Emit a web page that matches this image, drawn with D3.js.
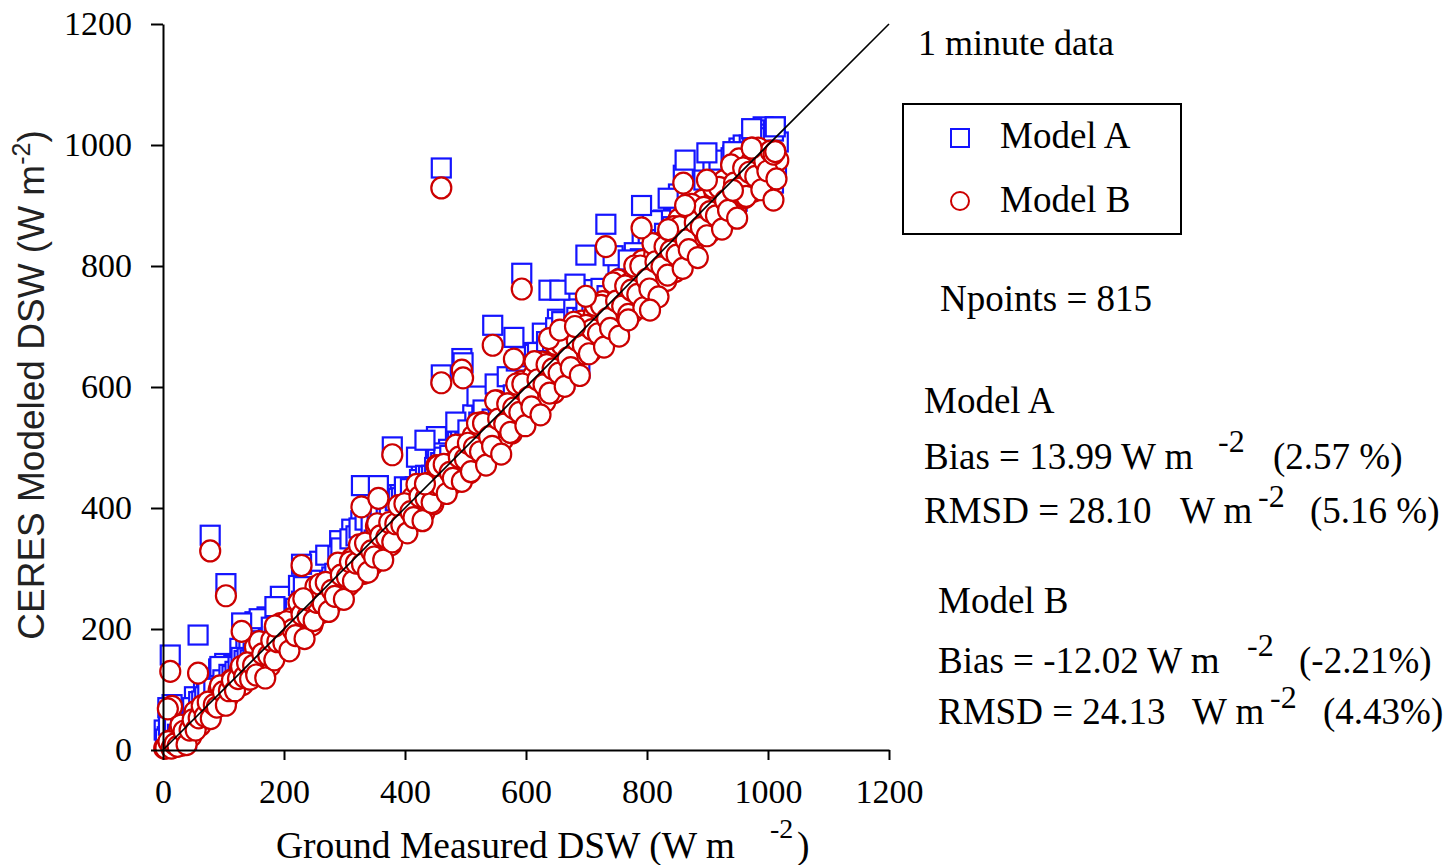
<!DOCTYPE html>
<html>
<head>
<meta charset="utf-8">
<script src="https://cdn.jsdelivr.net/npm/d3@7"></script>
<style>
  body { margin: 0; background: #fff; }
  svg { display: block; }
  .serif { font-family: "Liberation Serif", "Times New Roman", serif; fill: #000; }
  .axis path, .axis line { stroke: #000; stroke-width: 2; }
</style>
</head>
<body>
<svg id="chart" width="1448" height="865"></svg>
<script>
// ground measured DSW and the two CERES model estimates (W m-2)
const ground = [2, 7, 12, 17, 22, 27, 32, 37, 42, 47, 52, 57, 62, 67, 72, 77, 82, 87, 92, 97,
  102, 107, 112, 117, 122, 127, 132, 137, 142, 147, 152, 157, 162, 167, 172, 177, 182, 187, 192, 197,
  202, 207, 212, 217, 222, 227, 232, 237, 242, 247, 252, 257, 262, 267, 272, 277, 282, 287, 292, 297,
  302, 307, 312, 317, 322, 327, 332, 337, 342, 347, 352, 357, 362, 367, 372, 377, 382, 387, 392, 397,
  402, 407, 412, 417, 422, 427, 432, 437, 442, 447, 452, 457, 462, 467, 472, 477, 482, 487, 492, 497,
  502, 507, 512, 517, 522, 527, 532, 537, 542, 547, 552, 557, 562, 567, 572, 577, 582, 587, 592, 597,
  602, 607, 612, 617, 622, 627, 632, 637, 642, 647, 652, 657, 662, 667, 672, 677, 682, 687, 692, 697,
  702, 707, 712, 717, 722, 727, 732, 737, 742, 747, 752, 757, 762, 767, 772, 777, 782, 787, 792, 797,
  802, 807, 812, 817, 822, 827, 832, 837, 842, 847, 852, 857, 862, 867, 872, 877, 882, 887, 892, 897,
  902, 907, 912, 917, 922, 927, 932, 937, 942, 947, 952, 957, 962, 967, 972, 977, 982, 987, 992, 997,
  1002, 1007, 1012, 1017,
  4, 9, 14, 19, 24, 29, 34, 39, 44, 49, 54, 59, 64, 69, 74, 79, 84, 89, 94, 99,
  104, 109, 114, 119, 124, 129, 134, 139, 144, 149, 154, 159, 164, 169, 174, 179, 184, 189, 194, 199,
  204, 209, 214, 219, 224, 229, 234, 239, 244, 249, 254, 259, 264, 269, 274, 279, 284, 289, 294, 299,
  304, 309, 314, 319, 324, 329, 334, 339, 344, 349, 354, 359, 364, 369, 374, 379, 384, 389, 394, 399,
  404, 409, 414, 419, 424, 429, 434, 439, 444, 449, 454, 459, 464, 469, 474, 479, 484, 489, 494, 499,
  504, 509, 514, 519, 524, 529, 534, 539, 544, 549, 554, 559, 564, 569, 574, 579, 584, 589, 594, 599,
  604, 609, 614, 619, 624, 629, 634, 639, 644, 649, 654, 659, 664, 669, 674, 679, 684, 689, 694, 699,
  704, 709, 714, 719, 724, 729, 734, 739, 744, 749, 754, 759, 764, 769, 774, 779, 784, 789, 794, 799,
  804, 809, 814, 819, 824, 829, 834, 839, 844, 849, 854, 859, 864, 869, 874, 879, 884, 889, 894, 899,
  904, 909, 914, 919, 924, 929, 934, 939, 944, 949, 954, 959, 964, 969, 974, 979, 984, 989, 994, 999,
  1004, 1009, 1014,
  12, 15, 8, 58, 78, 104, 130, 185, 229, 232, 328, 356, 379, 433, 460, 460, 494, 496, 545, 580,
  593, 638, 656, 681, 699, 732, 769, 791, 805, 835, 860, 863, 899, 942, 973, 1009, 1012];
const modelA = [33, 22, 57, 30, 45, 48, 56, 50, 57, 65, 88, 63, 66, 100, 102, 72, 119, 97, 134, 94,
  143, 116, 133, 141, 135, 168, 123, 168, 169, 141, 212, 167, 162, 157, 220, 169, 192, 204, 229, 202,
  205, 220, 247, 205, 244, 262, 227, 224, 285, 237, 288, 284, 252, 277, 287, 287, 304, 280, 346, 292,
  325, 287, 365, 317, 320, 379, 317, 344, 352, 355, 400, 360, 369, 367, 407, 354, 422, 392, 422, 409,
  415, 407, 432, 435, 432, 455, 434, 434, 472, 422, 518, 472, 445, 484, 497, 474, 489, 510, 534, 485,
  527, 483, 554, 490, 542, 571, 494, 540, 560, 526, 592, 584, 543, 550, 614, 549, 606, 567, 657, 585,
  603, 600, 644, 610, 609, 689, 606, 616, 677, 616, 712, 651, 661, 662, 690, 666, 696, 687, 724, 703,
  715, 676, 761, 700, 729, 756, 724, 728, 753, 733, 802, 771, 728, 780, 802, 742, 813, 777, 844, 770,
  833, 788, 837, 817, 819, 876, 791, 846, 865, 809, 919, 861, 848, 847, 920, 854, 889, 894, 934, 890,
  900, 906, 949, 893, 936, 966, 911, 913, 983, 921, 995, 978, 938, 967, 987, 972, 1001, 970, 1030, 980,
  1020, 973, 1030, 1005,
  18, 41, 11, 42, 26, 56, 58, 17, 65, 70, 48, 80, 81, 88, 99, 67, 102, 79, 138, 116,
  89, 125, 123, 130, 138, 153, 148, 152, 149, 160, 146, 217, 171, 164, 184, 203, 187, 191, 254, 205,
  234, 202, 211, 234, 272, 246, 222, 233, 291, 242, 266, 312, 254, 322, 257, 286, 292, 321, 334, 277,
  308, 349, 291, 354, 367, 329, 380, 306, 374, 347, 396, 392, 326, 396, 404, 366, 412, 416, 417, 435,
  381, 432, 396, 484, 447, 401, 454, 453, 454, 467, 491, 475, 484, 469, 487, 471, 542, 496, 489, 509,
  529, 498, 512, 585, 521, 562, 509, 530, 547, 605, 569, 527, 551, 617, 553, 587, 643, 570, 650, 564,
  605, 605, 654, 657, 582, 626, 675, 602, 675, 698, 645, 708, 613, 693, 660, 729, 715, 631, 714, 730,
  677, 733, 747, 733, 763, 688, 751, 709, 817, 770, 706, 772, 779, 765, 788, 822, 791, 812, 776, 806,
  784, 875, 819, 794, 827, 854, 823, 837, 910, 846, 887, 834, 855, 872, 930, 894, 852, 876, 942, 878,
  912, 968, 895, 975, 889, 930, 930, 979, 982, 907, 951, 1000, 927, 1000, 1023, 970, 1025, 938, 1018, 985,
  1012, 1023, 956,
  157, 75, 70, 190, 355, 275, 210, 237, 307, 270, 437, 437, 501, 512, 962, 620, 647, 640, 702, 682,
  788, 760, 760, 770, 818, 869, 810, 900, 755, 912, 950, 975, 987, 989, 1027, 937, 1030];
const modelB = [3, 4, 15, 5, 10, 33, 8, 20, 39, 23, 63, 48, 41, 52, 72, 54, 77, 72, 99, 79,
  95, 86, 115, 99, 110, 133, 108, 120, 139, 123, 170, 142, 127, 142, 172, 139, 174, 162, 204, 167,
  190, 172, 217, 187, 202, 237, 192, 209, 237, 207, 270, 242, 227, 242, 272, 239, 274, 262, 304, 267,
  290, 272, 317, 287, 302, 337, 292, 309, 337, 307, 370, 342, 327, 342, 372, 339, 374, 362, 404, 367,
  390, 372, 417, 387, 402, 437, 392, 409, 437, 407, 470, 442, 427, 442, 472, 439, 474, 462, 504, 467,
  485, 458, 519, 475, 494, 541, 476, 498, 535, 491, 577, 536, 513, 532, 572, 524, 571, 552, 609, 555,
  585, 558, 619, 575, 594, 641, 576, 598, 635, 591, 677, 636, 613, 632, 672, 624, 671, 652, 709, 655,
  685, 658, 719, 675, 694, 741, 676, 698, 735, 691, 777, 736, 713, 732, 772, 724, 771, 752, 809, 755,
  785, 758, 819, 775, 794, 841, 776, 798, 835, 791, 877, 836, 813, 832, 872, 824, 871, 852, 909, 855,
  885, 858, 919, 875, 894, 941, 876, 898, 935, 891, 977, 936, 913, 932, 972, 924, 971, 952, 990, 955,
  985, 958, 990, 975,
  3, 14, 3, 10, 6, 41, 31, 9, 33, 50, 33, 53, 73, 56, 79, 52, 75, 71, 106, 96,
  74, 98, 115, 98, 118, 138, 121, 144, 117, 140, 124, 179, 159, 119, 156, 181, 149, 179, 209, 177,
  212, 164, 199, 189, 244, 224, 184, 221, 246, 214, 244, 274, 242, 277, 229, 264, 254, 309, 289, 249,
  286, 311, 279, 309, 339, 307, 342, 294, 329, 319, 374, 354, 314, 351, 376, 344, 374, 404, 372, 407,
  359, 394, 384, 439, 419, 379, 416, 441, 409, 439, 469, 437, 472, 424, 459, 449, 504, 484, 444, 481,
  507, 460, 500, 540, 493, 540, 471, 518, 502, 577, 547, 489, 539, 572, 525, 565, 605, 558, 605, 536,
  583, 567, 642, 612, 554, 604, 637, 590, 630, 670, 623, 670, 601, 648, 632, 707, 677, 619, 669, 702,
  655, 695, 735, 688, 735, 666, 713, 697, 772, 742, 684, 734, 767, 720, 760, 800, 753, 800, 731, 778,
  762, 837, 807, 749, 799, 832, 785, 825, 865, 818, 865, 796, 843, 827, 902, 872, 814, 864, 897, 850,
  890, 930, 883, 930, 861, 908, 892, 967, 937, 879, 929, 962, 915, 955, 995, 948, 995, 926, 973, 957,
  990, 985, 944,
  130, 72, 68, 127, 329, 255, 196, 205, 305, 250, 402, 416, 488, 440, 929, 607, 628, 615, 669, 646,
  762, 680, 694, 700, 750, 832, 711, 863, 727, 860, 937, 900, 942, 925, 995, 909, 989];
const ticks = [0, 200, 400, 600, 800, 1000, 1200];
const seriesNames = ["Model A", "Model B"];

const svg = d3.select("#chart");
const x = d3.scaleLinear().domain([0, 1200]).range([163, 889]);
const y = d3.scaleLinear().domain([0, 1200]).range([750, 24]);
const blue = "#1414ff", red = "#cc0000";

const ptsA = ground.map((g, i) => [g, modelA[i]]);
const ptsB = ground.map((g, i) => [g, modelB[i]]);

// markers: squares first, circles on top
svg.append("g").selectAll("rect").data(ptsA).join("rect")
    .attr("x", d => x(d[0]) - 9.5)
    .attr("y", d => y(d[1]) - 9.5)
    .attr("width", 19).attr("height", 19)
    .attr("fill", "#fff").attr("stroke", blue).attr("stroke-width", 2.2);

svg.append("g").selectAll("ellipse").data(ptsB).join("ellipse")
    .attr("cx", d => x(d[0]))
    .attr("cy", d => y(d[1]))
    .attr("rx", 10).attr("ry", 10.5)
    .attr("fill", "#fff").attr("stroke", red).attr("stroke-width", 2.2);

// 1:1 line
svg.append("line")
    .attr("x1", x(0)).attr("y1", y(0)).attr("x2", x(1200)).attr("y2", y(1200))
    .attr("stroke", "#000").attr("stroke-width", 1.6);

svg.append("g").attr("class", "axis")
    .attr("transform", `translate(0,${y(0)})`)
    .call(d3.axisBottom(x).tickValues(ticks).tickSize(10).tickSizeOuter(0).tickPadding(19).tickFormat(d3.format("d")))
    .attr("font-family", "'Liberation Serif', 'Times New Roman', serif")
    .attr("font-size", 34);

svg.append("g").attr("class", "axis")
    .attr("transform", `translate(${x(0)},0)`)
    .call(d3.axisLeft(y).tickValues(ticks).tickSize(12).tickSizeOuter(0).tickPadding(19).tickFormat(d3.format("d")))
    .attr("font-family", "'Liberation Serif', 'Times New Roman', serif")
    .attr("font-size", 34);

// axis titles
svg.append("text").attr("class", "serif").attr("font-size", 37.5)
    .attr("x", 276).attr("y", 858).text("Ground Measured DSW (W m");
svg.append("text").attr("class", "serif").attr("font-size", 28).attr("x", 770).attr("y", 838).text("-2");
svg.append("text").attr("class", "serif").attr("font-size", 37.5).attr("x", 797).attr("y", 858).text(")");

const yt = svg.append("text")
    .attr("transform", "translate(44,385) rotate(-90)")
    .attr("text-anchor", "middle")
    .attr("font-family", "'Liberation Sans', Arial, sans-serif")
    .attr("font-size", 37)
    .attr("fill", "#222");
yt.append("tspan").text("CERES Modeled DSW (W m");
yt.append("tspan").attr("font-size", 25).attr("dy", -14).text("-2");
yt.append("tspan").attr("dy", 14).text(")");

// annotation
const T = (txt, px, py, size) => svg.append("text").attr("class", "serif")
    .attr("font-size", size).attr("x", px).attr("y", py).text(txt);

T("1 minute data", 918, 55, 36);

// legend
svg.append("rect").attr("x", 903).attr("y", 104).attr("width", 278).attr("height", 130)
    .attr("fill", "none").attr("stroke", "#000").attr("stroke-width", 2);
svg.append("rect").attr("x", 951).attr("y", 129).attr("width", 18).attr("height", 18)
    .attr("fill", "#fff").attr("stroke", blue).attr("stroke-width", 2);
svg.append("circle").attr("cx", 960).attr("cy", 201).attr("r", 9)
    .attr("fill", "#fff").attr("stroke", red).attr("stroke-width", 2);
T(seriesNames[0], 1000, 148, 37);
T(seriesNames[1], 1000, 212, 37);

// statistics
T("Npoints = 815", 940, 311, 37);

T("Model A", 924, 413, 37);
T("Bias = 13.99 W m", 924, 469, 37);
T("-2", 1218, 452, 32);
T("(2.57 %)", 1273, 469, 37);
T("RMSD = 28.10", 924, 523, 37);
T("W m", 1180, 523, 37);
T("-2", 1258, 507, 32);
T("(5.16 %)", 1310, 523, 37);

T("Model B", 938, 613, 37);
T("Bias = -12.02 W m", 938, 673, 37);
T("-2", 1247, 656, 32);
T("(-2.21%)", 1299, 673, 37);
T("RMSD = 24.13", 938, 724, 37);
T("W m", 1192, 724, 37);
T("-2", 1270, 708, 32);
T("(4.43%)", 1323, 724, 37);
</script>
</body>
</html>
